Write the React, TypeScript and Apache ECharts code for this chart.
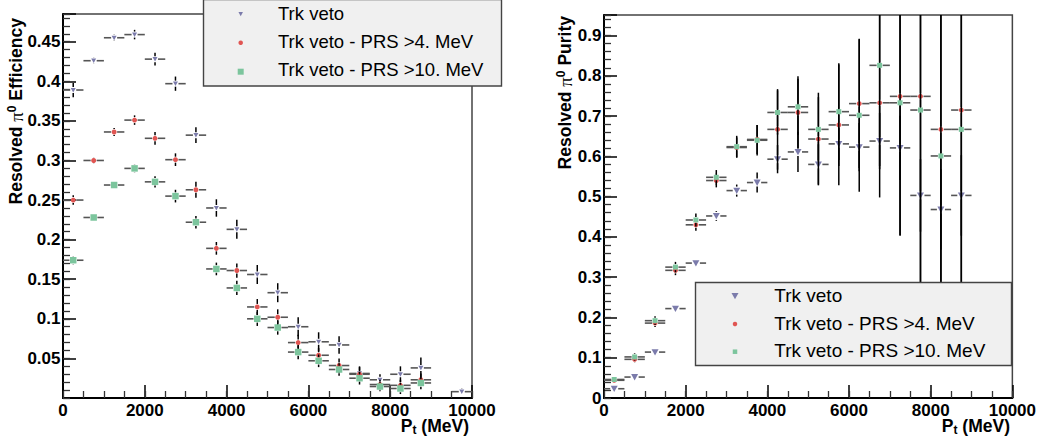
import React, { useEffect, useRef } from 'react';
import * as echarts from 'echarts';

const SANS = '"Liberation Sans", Arial, Helvetica, sans-serif';
const SERIF = '"Liberation Serif", "DejaVu Serif", serif';

// bin centres (MeV), 500 MeV wide bins
const binCenters = [250, 750, 1250, 1750, 2250, 2750, 3250, 3750, 4250, 4750, 5250, 5750, 6250, 6750, 7250, 7750, 8250, 8750, 9250, 9750];
const binHalfWidth = 250;

// ---- Efficiency (left panel)
const effTrkVeto = [0.389, 0.426, 0.455, 0.459, 0.428, 0.397, 0.332, 0.240, 0.213, 0.156, 0.133, 0.090, 0.071, 0.067, 0.031, 0.023, 0.030, 0.038, null, 0.008];
const effTrkVetoErr = [0.009, 0.004, 0.004, 0.006, 0.008, 0.009, 0.010, 0.011, 0.012, 0.012, 0.012, 0.012, 0.012, 0.011, 0.009, 0.007, 0.010, 0.013, null, 0.004];
const effPrs4 = [0.250, 0.300, 0.336, 0.351, 0.328, 0.301, 0.263, 0.189, 0.161, 0.115, 0.102, 0.070, 0.054, 0.041, 0.030, 0.017, 0.016, 0.023, null, null];
const effPrs4Err = [0.006, 0.004, 0.005, 0.006, 0.008, 0.008, 0.010, 0.008, 0.009, 0.010, 0.010, 0.010, 0.009, 0.009, 0.009, 0.006, 0.007, 0.008, null, null];
const effPrs10 = [0.174, 0.228, 0.269, 0.290, 0.273, 0.255, 0.222, 0.163, 0.139, 0.100, 0.089, 0.058, 0.047, 0.036, 0.025, 0.0145, 0.012, 0.019, null, null];
const effPrs10Err = [0.005, 0.004, 0.004, 0.005, 0.007, 0.008, 0.008, 0.008, 0.009, 0.009, 0.009, 0.009, 0.008, 0.008, 0.008, 0.006, 0.007, 0.008, null, null];

// ---- Purity (right panel)
const purTrkVeto = [0.023, 0.052, 0.114, 0.222, 0.335, 0.452, 0.515, 0.535, 0.593, 0.611, 0.580, 0.631, 0.623, 0.638, 0.621, 0.503, 0.468, 0.503, null, null];
const purTrkVetoErr = [0.004, 0.004, 0.005, 0.007, 0.009, 0.012, 0.015, 0.025, 0.035, 0.050, 0.050, 0.055, 0.060, 0.070, 0.080, 0.090, 0.100, 0.100, null, null];
const purPrs4 = [0.044, 0.096, 0.186, 0.317, 0.430, 0.540, 0.622, 0.642, 0.667, 0.709, 0.643, 0.678, 0.731, 0.733, 0.749, 0.749, 0.667, 0.715, null, null];
const purPrs4Err = [0.006, 0.008, 0.010, 0.012, 0.015, 0.017, 0.025, 0.036, 0.100, 0.090, 0.115, 0.150, 0.160, 0.235, 0.345, 0.550, 0.500, 0.550, null, null];
const purPrs10 = [0.046, 0.102, 0.192, 0.325, 0.442, 0.548, 0.624, 0.640, 0.709, 0.723, 0.667, 0.711, 0.702, 0.826, 0.733, 0.715, 0.601, 0.667, null, null];
const purPrs10Err = [0.007, 0.009, 0.011, 0.013, 0.016, 0.018, 0.027, 0.038, 0.055, 0.070, 0.080, 0.120, 0.190, 0.250, 0.330, 0.550, 0.450, 0.500, null, null];

const legendNames = ['Trk veto', 'Trk veto - PRS >4. MeV', 'Trk veto - PRS >10. MeV'];
const xTickLabels = [0, 2000, 4000, 6000, 8000, 10000];

const COL_TRK = '#7b7bab';
const COL_RED = '#e05552';
const COL_GRN = '#7cc59d';

type Shape = 'tri' | 'circle' | 'square';

function markerEl(shape: Shape, cx: number, cy: number, size: number, color: string, z?: number): any {
  const base: any = { z: z ?? 0 };
  if (shape === 'tri') {
    return { ...base, type: 'polygon', shape: { points: [[cx - size / 2, cy - size * 0.42], [cx + size / 2, cy - size * 0.42], [cx, cy + size * 0.48]] }, style: { fill: color } };
  }
  if (shape === 'circle') {
    return { ...base, type: 'circle', shape: { cx, cy, r: size / 2 }, style: { fill: color } };
  }
  return { ...base, type: 'rect', shape: { x: cx - size / 2, y: cy - size / 2, width: size, height: size }, style: { fill: color } };
}

function toPoints(vals: (number | null)[], errs: (number | null)[]) {
  const out: number[][] = [];
  binCenters.forEach((x, i) => {
    const v = vals[i];
    if (v != null) out.push([x, v, errs[i] ?? 0]);
  });
  return out;
}

function errSeries(name: string, grid: number, vals: (number | null)[], errs: (number | null)[], shape: Shape, size: number, color: string) {
  return {
    type: 'custom',
    name,
    coordinateSystem: 'cartesian2d',
    xAxisIndex: grid * 2,
    yAxisIndex: grid * 2,
    encode: { x: 0, y: 1 },
    data: toPoints(vals, errs),
    renderItem: (params: any, api: any) => {
      const x = api.value(0);
      const y = api.value(1);
      const e = api.value(2);
      const c = api.coord([x, y]);
      const l = api.coord([x - binHalfWidth, y]);
      const r = api.coord([x + binHalfWidth, y]);
      const t = api.coord([x, y + e]);
      const b = api.coord([x, y - e]);
      const cs = params.coordSys;
      const clampY = (v: number) => Math.max(cs.y, Math.min(cs.y + cs.height, v));
      const clampX = (v: number) => Math.max(cs.x, Math.min(cs.x + cs.width, v));
      const h = size / 2 + 0.5;
      const children: any[] = [];
      const hs = { stroke: '#555', lineWidth: 1.6 };
      const vs = { stroke: '#000', lineWidth: 1.5 };
      if (c[0] - h > l[0]) children.push({ type: 'line', shape: { x1: clampX(l[0]), y1: c[1], x2: c[0] - h, y2: c[1] }, style: hs });
      if (r[0] > c[0] + h) children.push({ type: 'line', shape: { x1: c[0] + h, y1: c[1], x2: clampX(r[0]), y2: c[1] }, style: hs });
      if (t[1] < c[1] - h) children.push({ type: 'line', shape: { x1: c[0], y1: clampY(t[1]), x2: c[0], y2: c[1] - h }, style: vs });
      if (b[1] > c[1] + h) children.push({ type: 'line', shape: { x1: c[0], y1: c[1] + h, x2: c[0], y2: clampY(b[1]) }, style: vs });
      children.push(markerEl(shape, c[0], c[1], size, color));
      return { type: 'group', children };
    },
  };
}

const yFmt = (step: number, showZero: boolean) => (v: number) => {
  const k = Math.round(v / step);
  if (Math.abs(v - k * step) > 1e-6) return '';
  if (k === 0 && !showZero) return '';
  return String(+(k * step).toFixed(3));
};

const labelStyle = { color: '#000', fontSize: 17, fontWeight: 'bold', fontFamily: SANS };

function xAxes(grid: number) {
  return [
    {
      gridIndex: grid, type: 'value', position: 'bottom', min: 0, max: 10000, interval: 2000,
      axisLine: { show: true, lineStyle: { color: '#000', width: 2 } },
      axisTick: { show: true, inside: true, length: 13, lineStyle: { color: '#000', width: 1.5 } },
      axisLabel: { ...labelStyle, margin: 4, formatter: (v: number) => (xTickLabels.includes(v) ? String(v) : '') },
      splitLine: { show: false },
    },
    {
      gridIndex: grid, type: 'value', position: 'bottom', min: 0, max: 10000, interval: 500,
      axisLine: { show: false },
      axisTick: { show: true, inside: true, length: 7, lineStyle: { color: '#333', width: 1.3 } },
      axisLabel: { show: false },
      splitLine: { show: false },
    },
  ];
}

function yAxes(grid: number, max: number, step: number, minor: number, showZero: boolean) {
  return [
    {
      gridIndex: grid, type: 'value', position: 'left', min: 0, max, interval: step,
      axisLine: { show: true, lineStyle: { color: '#000', width: 2 } },
      axisTick: { show: true, inside: true, length: 13, lineStyle: { color: '#000', width: 1.5 } },
      axisLabel: { ...labelStyle, margin: 2.5, formatter: yFmt(step, showZero) },
      splitLine: { show: false },
    },
    {
      gridIndex: grid, type: 'value', position: 'left', min: 0, max, interval: minor,
      axisLine: { show: false },
      axisTick: { show: true, inside: true, length: 7, lineStyle: { color: '#333', width: 1.3 } },
      axisLabel: { show: false },
      splitLine: { show: false },
    },
  ];
}

function legendGraphic(box: number[], mx: number, tx: number, rowsMarker: number[], rowsText: number[], sizes: number[], fontSize: number) {
  const shapes: Shape[] = ['tri', 'circle', 'square'];
  const cols = [COL_TRK, COL_RED, COL_GRN];
  const els: any[] = [
    { type: 'rect', z: 100, shape: { x: box[0], y: box[1], width: box[2], height: box[3] }, style: { fill: '#f0f0f0', stroke: '#444', lineWidth: 1.4 } },
  ];
  legendNames.forEach((n, i) => {
    els.push(markerEl(shapes[i], mx, rowsMarker[i], sizes[i], cols[i], 101));
    els.push({
      type: 'text', z: 101, x: tx, y: rowsText[i],
      style: { text: n, fill: '#000', fontSize, fontFamily: SANS, fontWeight: 'normal', textAlign: 'left', textVerticalAlign: 'middle', align: 'left', verticalAlign: 'middle' },
    });
  });
  return els;
}

function yTitle(x: number, y: number, word: string) {
  return {
    type: 'text', z: 100, x, y, rotation: Math.PI / 2,
    style: {
      text: `{a|Resolved }{p|π}{s|0}{a| ${word}}`,
      fill: '#000',
      rich: {
        a: { fontSize: 17.5, fontWeight: 'bold', fontFamily: SANS, lineHeight: 20, fill: '#000', color: '#000' },
        p: { fontSize: 19, fontFamily: SERIF, lineHeight: 20, fill: '#000', color: '#000' },
        s: { fontSize: 12, fontWeight: 'bold', fontFamily: SANS, lineHeight: 12, verticalAlign: 'top', fill: '#000', color: '#000' },
      },
      textAlign: 'right', textVerticalAlign: 'middle', align: 'right', verticalAlign: 'middle',
    },
  };
}

function xTitle(x: number, y: number) {
  return {
    type: 'text', z: 100, x, y,
    style: {
      text: '{a|P}{t|t}{a| (MeV)}',
      fill: '#000',
      rich: {
        a: { fontSize: 17.5, fontWeight: 'bold', fontFamily: SANS, lineHeight: 19, verticalAlign: 'top', fill: '#000', color: '#000' },
        t: { fontSize: 12, fontWeight: 'bold', fontFamily: SANS, lineHeight: 12, verticalAlign: 'bottom', fill: '#000', color: '#000' },
      },
      textAlign: 'right', textVerticalAlign: 'middle', align: 'right', verticalAlign: 'middle',
    },
  };
}

export default function App() {
  const ref = useRef<HTMLDivElement>(null);
  useEffect(() => {
    if (!ref.current) return;
    const chart = echarts.init(ref.current, null, { renderer: 'svg' });
    const option: any = {
      animation: false,
      backgroundColor: '#fff',
      grid: [
        { left: 63, top: 14, width: 409, height: 384, show: true, borderColor: '#444', borderWidth: 1.5, backgroundColor: 'transparent' },
        { left: 604, top: 15, width: 409, height: 383, show: true, borderColor: '#444', borderWidth: 1.5, backgroundColor: 'transparent' },
      ],
      xAxis: [...xAxes(0), ...xAxes(1)],
      yAxis: [...yAxes(0, 0.485, 0.05, 0.01, false), ...yAxes(1, 0.951, 0.1, 0.02, true)],
      series: [
        errSeries(legendNames[0], 0, effTrkVeto, effTrkVetoErr, 'tri', 5, COL_TRK),
        errSeries(legendNames[1], 0, effPrs4, effPrs4Err, 'circle', 5, COL_RED),
        errSeries(legendNames[2], 0, effPrs10, effPrs10Err, 'square', 6.5, COL_GRN),
        errSeries(legendNames[0], 1, purTrkVeto, purTrkVetoErr, 'tri', 7, COL_TRK),
        errSeries(legendNames[1], 1, purPrs4, purPrs4Err, 'circle', 5, COL_RED),
        errSeries(legendNames[2], 1, purPrs10, purPrs10Err, 'square', 5, COL_GRN),
      ],
      graphic: [
        ...legendGraphic([203.5, -0.5, 298, 86.5], 240.7, 278, [14, 42.7, 71.7], [13, 41.3, 69.7], [4.5, 4.5, 6], 18.5),
        ...legendGraphic([695.5, 282.5, 316, 83], 735, 774.3, [296, 324, 351.7], [295.5, 323.2, 350.5], [7, 4.5, 4.5], 19),
        yTitle(16, 18, 'Efficiency'),
        yTitle(565, 16, 'Purity'),
        xTitle(469, 426),
        xTitle(1010, 426),
      ],
    };
    chart.setOption(option);
    return () => chart.dispose();
  }, []);
  return <div ref={ref} style={{ position: 'fixed', left: 0, top: 0, width: 1039, height: 439, background: '#fff' }} />;
}
